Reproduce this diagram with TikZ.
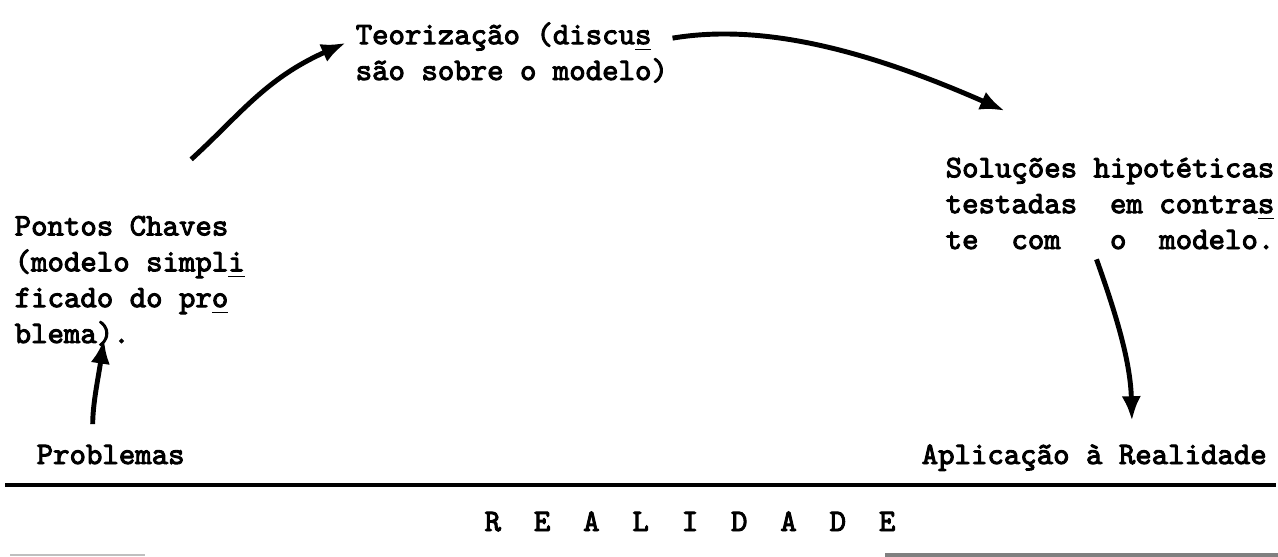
\documentclass[tikz,border=0pt]{standalone}
\usepackage{fontspec}
\setmonofont{lmmono10-regular.otf}[FakeBold=3]
\usepackage{tikz}
\usetikzlibrary{arrows.meta}
\newcommand{\hifen}[1]{\underline{#1}}

\begin{document}
\begin{tikzpicture}[x=0.01cm,y=-0.01cm,
    txt/.style={font=\fontsize{8.9}{10.2}\selectfont\ttfamily,align=left,inner sep=0pt},
    seta/.style={line width=1.4pt,-{Latex[length=7pt,width=5.5pt]}}]
    \useasboundingbox (0,0) rectangle (1278,556);
    % textos
    \node[txt,anchor=base west] (teor) at (355,80) {Teoriza\c{c}\~ao (discu\hifen{s}\\s\~ao sobre o modelo)};
    \node[txt,anchor=base west] (pontos) at (14,343) {Pontos Chaves\\(modelo simpl\hifen{i}\\ficado do pr\hifen{o}\\blema).};
    \node[txt,anchor=base west] (solu) at (945,249) {Solu\c{c}\~oes hipot\'eticas\\testadas~~em contra\hifen{s}\\te~~com~~~o~~modelo.};
    \node[txt,anchor=base west] (prob) at (36,464) {Problemas};
    \node[txt,anchor=base west] (apli) at (921,464) {Aplica\c{c}\~ao \`a Realidade};
    \node[txt,anchor=base] (real) at (690,531) {R~~E~~A~~L~~I~~D~~A~~D~~E};
    % setas
    \draw[seta,shorten <=0.83cm,shorten >=0.1cm] (pontos.north) .. controls +(110,-100) and +(-90,40) .. (teor.175);
    \draw[seta,shorten <=0.04cm,shorten >=1.15cm] (teor.5) .. controls +(90,-15) and +(-250,-110) .. (solu.north);
    \draw[seta,shorten <=0.1cm,shorten >=0.23cm] (solu.250) .. controls +(25,70) and +(-2,-80) .. (apli.20);
    \draw[seta,shorten <=0.2cm] (prob.150) .. controls +(0,-40) and +(-6,40) .. ([xshift=0.9cm,yshift=0.04cm]pontos.base west);
    % linhas
    \draw[line width=1.3pt] (5,485) -- (1276,485);
    \draw[gray!50,line width=0.8pt] (10,555) -- (145,555);
    \draw[gray,line width=1pt] (885,555) -- (1278,555);
\end{tikzpicture}
\end{document}
